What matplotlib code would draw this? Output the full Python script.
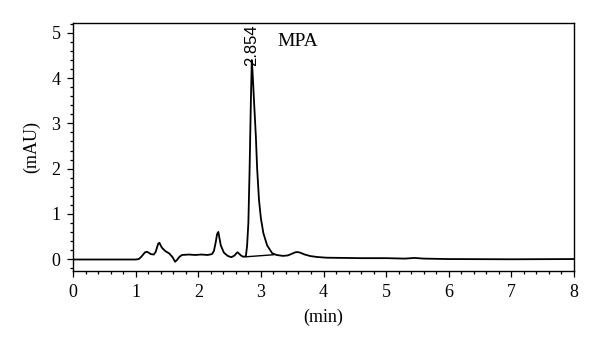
import matplotlib.pyplot as plt
from matplotlib.ticker import MultipleLocator

# chromatogram trace
time_min = [0.0, 1.0, 1.05, 1.09, 1.12, 1.15, 1.18, 1.21, 1.24, 1.29, 1.32, 1.34,
            1.36, 1.38, 1.40, 1.42, 1.47, 1.54, 1.59, 1.63, 1.66, 1.70, 1.74, 1.85,
            1.95, 2.05, 2.15, 2.22, 2.25, 2.28, 2.30, 2.32, 2.34, 2.36, 2.41, 2.47,
            2.53, 2.58, 2.61, 2.63, 2.65, 2.68, 2.72, 2.76, 2.78, 2.80, 2.82, 2.84,
            2.855, 2.87, 2.89, 2.92, 2.94, 2.97, 3.00, 3.04, 3.10, 3.18, 3.25, 3.35,
            3.43, 3.50, 3.55, 3.59, 3.63, 3.70, 3.79, 3.90, 4.05, 4.6, 5.0, 5.3,
            5.45, 5.6, 6.0, 7.0, 8.0]
signal_mau = [-0.01, -0.01, 0.0, 0.05, 0.10, 0.15, 0.16, 0.14, 0.11, 0.10, 0.16, 0.25,
              0.34, 0.36, 0.30, 0.25, 0.18, 0.12, 0.04, -0.06, -0.02, 0.05, 0.09, 0.10,
              0.09, 0.10, 0.09, 0.11, 0.18, 0.38, 0.55, 0.60, 0.45, 0.30, 0.14, 0.07,
              0.04, 0.08, 0.13, 0.15, 0.12, 0.08, 0.05, 0.06, 0.3, 0.8, 2.0, 3.5,
              4.4, 4.05, 3.5, 2.7, 2.0, 1.3, 0.9, 0.57, 0.30, 0.13, 0.09, 0.07,
              0.08, 0.12, 0.15, 0.155, 0.14, 0.10, 0.066, 0.045, 0.03, 0.02, 0.02, 0.01,
              0.025, 0.01, 0.0, -0.005, 0.0]

# integration baseline under the MPA peak
base_time = [2.76, 3.20]
base_mau = [0.05, 0.095]

peak_rt = 2.854
peak_label = '2.854'

fig = plt.figure(figsize=(6, 3.52), dpi=100)
ax = fig.add_axes([0.1217, 0.230, 0.835, 0.706])

ax.plot(time_min, signal_mau, color='black', linewidth=1.3)
ax.plot(base_time, base_mau, color='black', linewidth=1.0)

ax.text(peak_rt + 0.005, 4.27, peak_label, rotation=90, ha='center', va='bottom',
        fontsize=12, family='Liberation Sans')
ax.text(3.27, 4.8, 'MPA', ha='left', va='center', fontsize=14, family='Liberation Serif')

ax.set_xlim(0, 8)
ax.set_ylim(-0.265, 5.23)
ax.xaxis.set_major_locator(MultipleLocator(1))
ax.xaxis.set_minor_locator(MultipleLocator(0.2))
ax.yaxis.set_major_locator(MultipleLocator(1))
ax.yaxis.set_minor_locator(MultipleLocator(0.2))
ax.tick_params(which='major', length=4, width=0.9, pad=5, labelsize=13)
ax.tick_params(which='minor', length=2.5, width=0.9)
for lab in ax.get_xticklabels() + ax.get_yticklabels():
    lab.set_family('Liberation Serif')
for sp in ax.spines.values():
    sp.set_linewidth(1.0)

ax.set_xlabel('(min)', fontsize=13, family='Liberation Serif', labelpad=6)
ax.set_ylabel('(mAU)', fontsize=13, family='Liberation Serif', labelpad=8)

plt.savefig('out.png', dpi=100)
